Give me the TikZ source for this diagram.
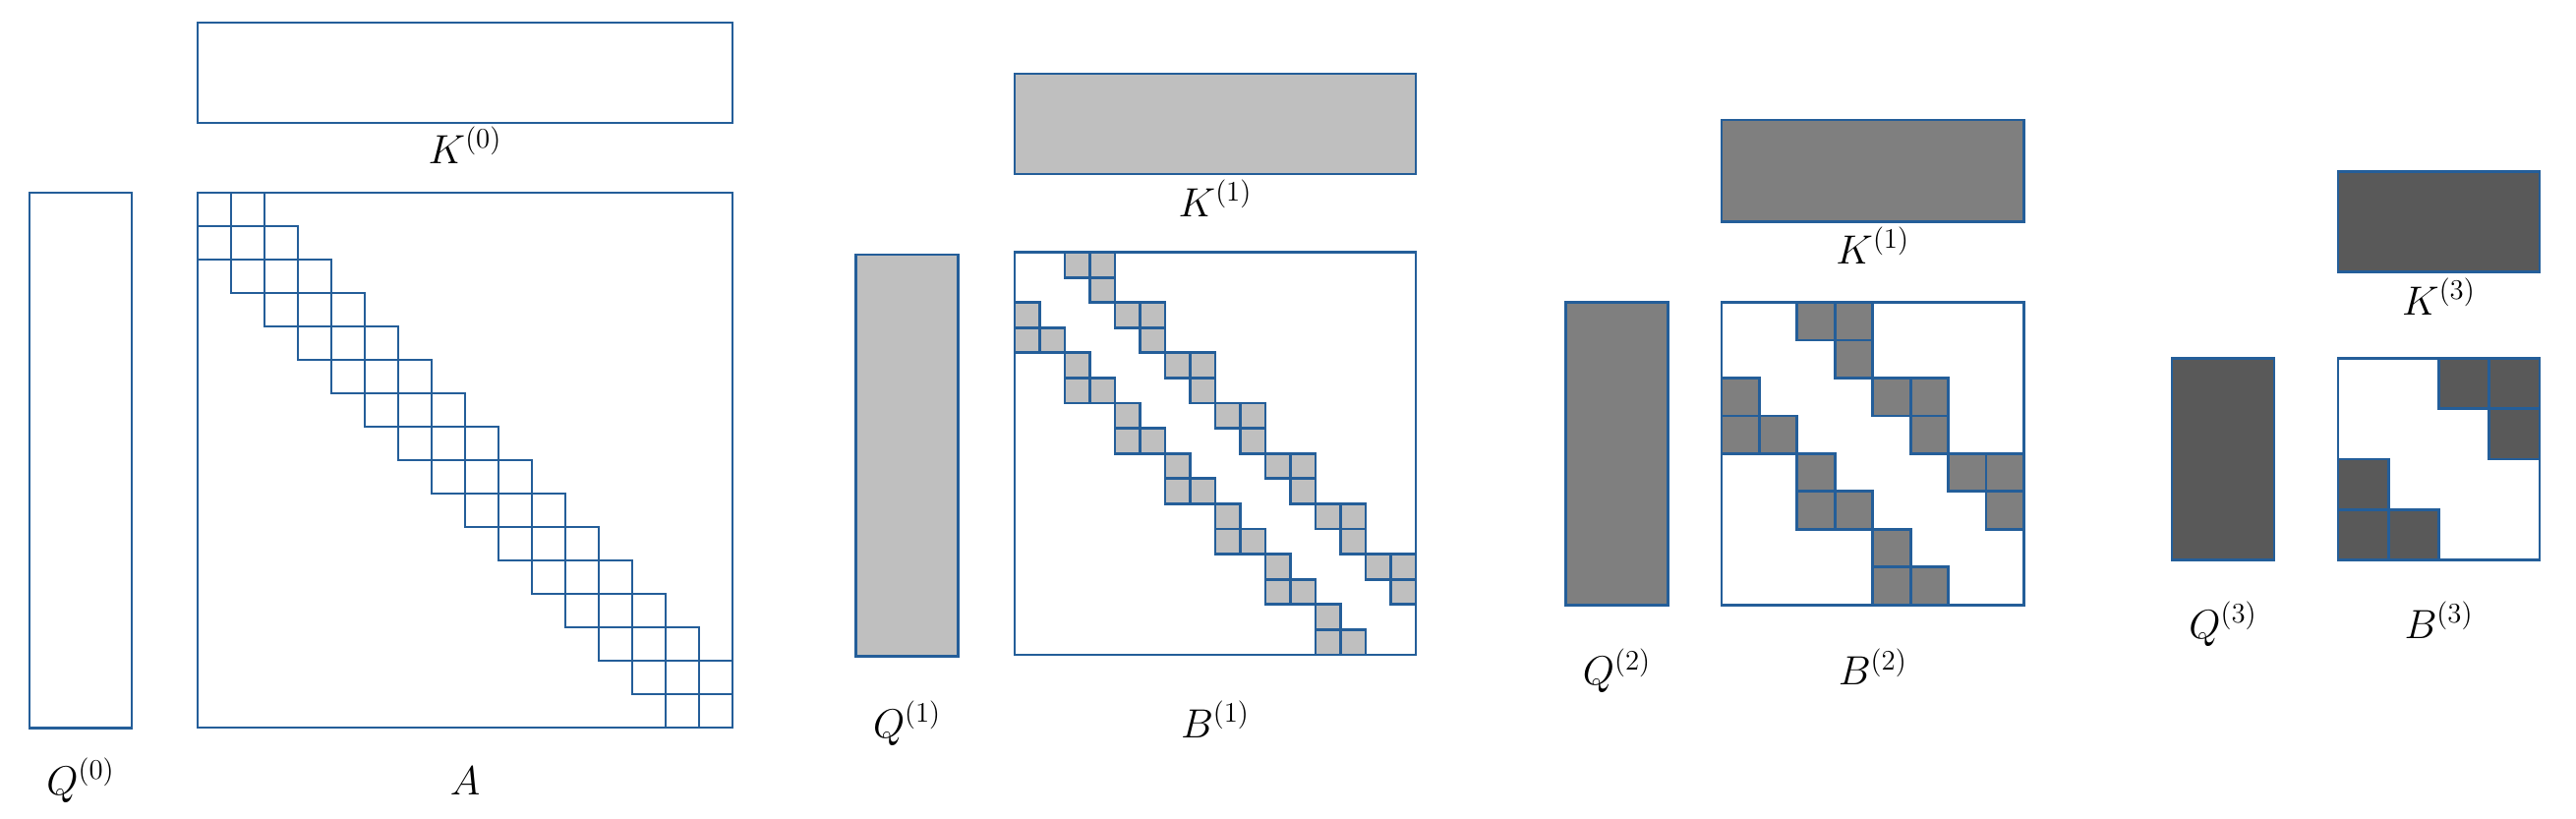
\documentclass[tikz,border=0pt]{standalone}
\definecolor{mblue}{RGB}{36,94,153}
\definecolor{gl}{RGB}{191,191,191}
\definecolor{gm}{RGB}{127,127,127}
\definecolor{gd}{RGB}{89,89,89}
\tikzset{
  box/.style={draw=mblue, line width=1.4pt},
  lab/.style={anchor=base, inner sep=0pt, font=\fontsize{21}{25}\selectfont},
}
% x0 y0 cw ch kmax fill
\newcommand{\bmat}[6]{%
  \foreach \k in {0,...,#5}{%
    \foreach \r/\c in {0/2,0/3,1/3,2/0,3/0,3/1}{%
      \draw[box,fill=#6] ({#1+(2*\k+\c)*#3},{#2+(2*\k+\r)*#4}) rectangle ++(#3,#4);
    }%
  }%
}
\begin{document}
\begin{tikzpicture}[x=0.5pt,y=-0.5pt]
\useasboundingbox (0,0) rectangle (2620,832);
% ---- stage 0
\draw[box] (30,196) rectangle (134,740.5);
\draw[box] (201,23) rectangle (745,125);
\draw[box] (201,196) rectangle (745,740);
\foreach \i in {0,...,15}{
  \foreach \d in {-1,0,1}{
    \pgfmathtruncatemacro{\j}{\i+\d}
    \ifnum\j>-1 \ifnum\j<16
      \draw[box] ({201+\j*34},{196+\i*34}) rectangle ++(34,34);
    \fi\fi
  }
}
\node[lab] (k0) at (473,166) {$K^{(0)}$};
\node[lab] (q0) at (82,808) {$Q^{(0)}$};
\node[lab] (a0) at (473,808) {$A$};
% ---- stage 1
\draw[box,fill=gl] (870.7,259) rectangle (974.5,667.5);
\draw[box,fill=gl] (1032,75) rectangle (1440,177);
\draw[box,fill=white] (1032,256.5) rectangle (1440,666);
\bmat{1032}{256.5}{25.5}{25.59}{6}{gl}
\node[lab] (k1) at (1236,220) {$K^{(1)}$};
\node[lab] (q1) at (922.6,750) {$Q^{(1)}$};
\node[lab] (b1) at (1236,750) {$B^{(1)}$};
% ---- stage 2
\draw[box,fill=gm] (1592.7,307.5) rectangle (1696.3,615.3);
\draw[box,fill=gm] (1751,122) rectangle (2058.5,225.5);
\draw[box,fill=white] (1751,307.5) rectangle (2058.5,615.3);
\bmat{1751}{307.5}{38.44}{38.47}{2}{gm}
\node[lab] (k2) at (1904.75,268) {$K^{(1)}$};
\node[lab] (q2) at (1644.5,696.5) {$Q^{(2)}$};
\node[lab] (b2) at (1904.75,696.5) {$B^{(2)}$};
% ---- stage 3
\draw[box,fill=gd] (2209,364.5) rectangle (2313,569.5);
\draw[box,fill=gd] (2378,174.3) rectangle (2583,276.7);
\draw[box,fill=white] (2378,364.5) rectangle (2583,569.5);
\bmat{2378}{364.5}{51.25}{51.25}{0}{gd}
\node[lab] (k3) at (2480.5,320) {$K^{(3)}$};
\node[lab] (q3) at (2261,649) {$Q^{(3)}$};
\node[lab] (b3) at (2480.5,649) {$B^{(3)}$};
\end{tikzpicture}
\end{document}
